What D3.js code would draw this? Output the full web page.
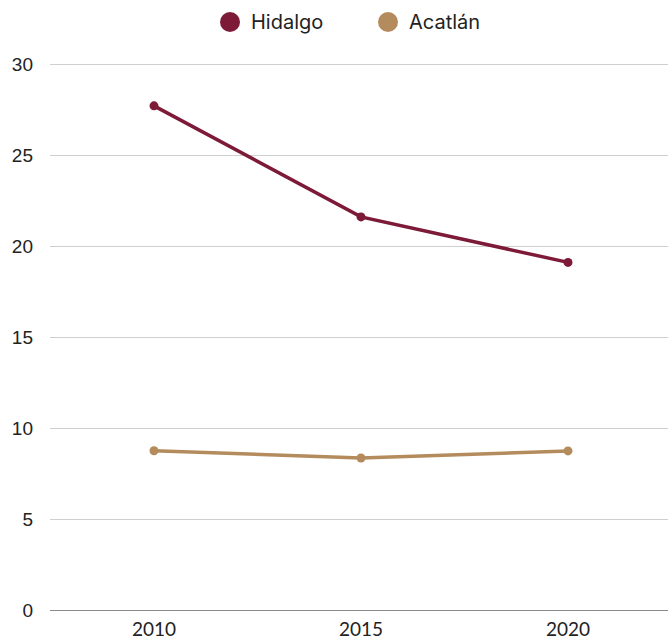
<!DOCTYPE html>
<html><head><meta charset="utf-8">
<script src="https://cdn.jsdelivr.net/npm/d3@7"></script>
<style>body{margin:0;background:#fff}</style>
</head><body>
<svg id="c" width="668" height="640"></svg>
<script>
const years = ["2010","2015","2020"];
const seriesNames = ["Hidalgo","Acatlán"];
const hidalgo = [27.7, 21.6, 19.1];
const acatlan = [8.75, 8.35, 8.74];
const yTicks = [0,5,10,15,20,25,30];
const colors = ["#7c1a37","#b38b5d"];

const svg = d3.select("#c");
const m = {l:50, r:668, t:64, b:610};
const x = d3.scalePoint().domain(years).range([154,568]);
const y = d3.scaleLinear().domain([0,30]).range([m.b,m.t]);

// gridlines
svg.append("g").selectAll("line").data(yTicks.filter(d=>d>0)).join("line")
  .attr("x1",m.l).attr("x2",m.r).attr("y1",d=>y(d)+0.5).attr("y2",d=>y(d)+0.5)
  .attr("stroke","#cfcfcf").attr("stroke-width",1);
svg.append("line").attr("x1",m.l).attr("x2",m.r).attr("y1",y(0)+0.5).attr("y2",y(0)+0.5)
  .attr("stroke","#8a8a8a").attr("stroke-width",1);

// y labels
svg.append("g").selectAll("text").data(yTicks).join("text")
  .attr("x",33).attr("y",d=>y(d)).attr("dy","0.36em").attr("text-anchor","end")
  .attr("font-family","Liberation Sans, Arial, sans-serif").attr("font-size",19).attr("fill","#222")
  .text(d=>d);

// x labels
svg.append("g").selectAll("text").data(years).join("text")
  .attr("x",d=>x(d)).attr("y",636).attr("text-anchor","middle")
  .attr("font-family","Lato, Inter, sans-serif").attr("font-size",19).attr("fill","#222")
  .text(d=>d);

const data = [hidalgo, acatlan];
const line = d3.line().x((d,i)=>x(years[i])).y(d=>y(d));
data.forEach((vals,k)=>{
  svg.append("path").attr("d",line(vals)).attr("fill","none")
    .attr("stroke",colors[k]).attr("stroke-width",3.5);
  svg.append("g").selectAll("circle").data(vals).join("circle")
    .attr("cx",(d,i)=>x(years[i])).attr("cy",d=>y(d)).attr("r",4.5).attr("fill",colors[k]);
});

// legend
const lg = [{n:seriesNames[0],cx:230,tx:251},{n:seriesNames[1],cx:388,tx:409}];
lg.forEach((d,k)=>{
  svg.append("circle").attr("cx",d.cx).attr("cy",22).attr("r",10).attr("fill",colors[k]);
  svg.append("text").attr("x",d.tx).attr("y",22).attr("dy","0.36em")
    .attr("font-family","Inter, sans-serif").attr("font-size",20).attr("fill","#222").text(d.n);
});
</script>
</body></html>
